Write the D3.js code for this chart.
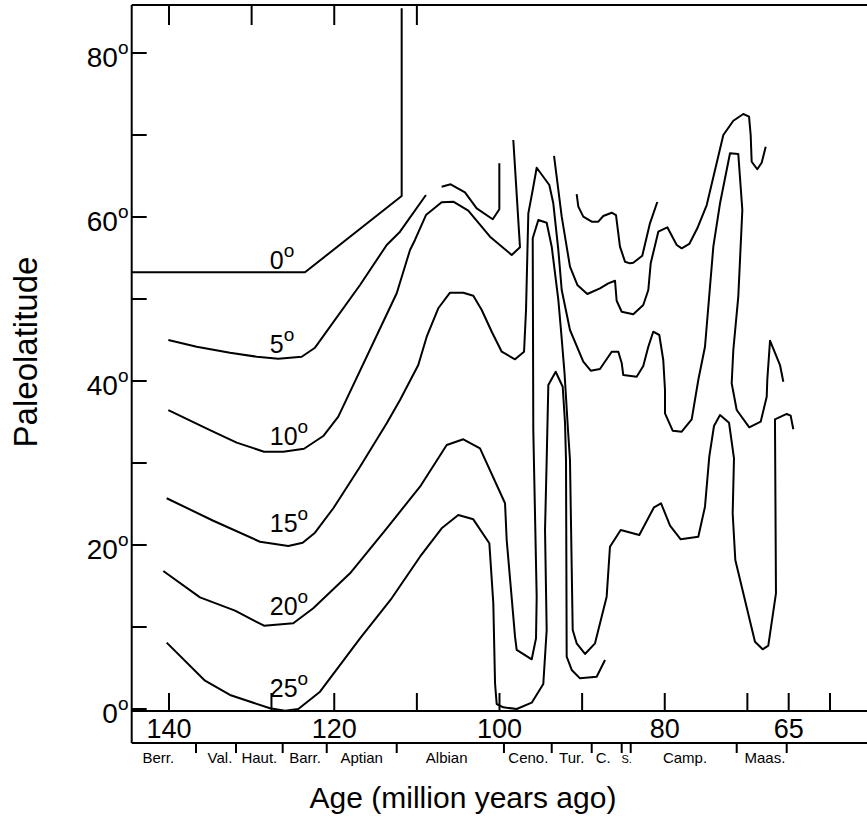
<!DOCTYPE html>
<html>
<head>
<meta charset="utf-8">
<script src="https://cdn.jsdelivr.net/npm/d3@7"></script>
<style>
  html, body { margin: 0; padding: 0; background: #fff; }
  svg { display: block; }
  text { font-family: "Liberation Sans", Arial, Helvetica, sans-serif; fill: #000; }
</style>
</head>
<body>
<svg id="chart" width="867" height="819"></svg>
<script>
// ---------------- DATA (age in Ma, paleolatitude in degrees) ----------------
const contourNames = ["0", "5", "10", "15", "20", "25"];
const contourLabelLats = [53.66, 43.41, 32.2, 21.62, 11.46, 1.5];
const contourLabelAge = 127.8;

const line0 = [[144.48,53.26],[123.54,53.26],[111.84,62.56],[111.84,85.45]];

const line5a = [[140.08,45.0],[136.65,44.18],[132.62,43.45],[129.39,42.96],[126.77,42.72],[123.94,42.96],[122.33,44.06],[116.88,51.71],[113.65,56.59],[112.04,58.21],[108.9,62.68]];
const line5b = [[107.0,63.70],[105.91,63.99],[104.18,63.01],[102.76,61.06],[100.82,59.72],[100.02,60.94],[100.02,66.55]];
const line5c = [[90.66,62.80],[90.46,61.26],[89.86,60.04],[88.84,59.43],[88.04,59.43],[87.44,60.12],[86.42,60.52],[85.90,60.24],[85.42,56.38],[84.81,54.55],[84.21,54.35],[83.81,54.43],[82.72,55.28],[81.79,59.23],[80.90,61.83]];

const line10a = [[140.08,36.46],[135.04,34.02],[131.81,32.48],[128.5,31.38],[126.17,31.38],[123.66,31.74],[121.33,33.29],[119.51,35.65],[112.44,50.70],[110.83,55.98],[110.23,57.20],[108.9,60.24],[107.0,61.79],[105.59,61.87],[103.78,60.79],[101.15,57.6],[98.52,55.37],[97.52,56.30],[98.33,69.39]];
const line10b = [[93.40,67.44],[92.47,60.04],[91.47,53.94],[90.58,51.71],[89.37,50.61],[87.84,51.30],[86.83,51.91],[86.02,52.23],[85.82,49.79],[85.21,48.45],[83.81,48.13],[82.60,49.27],[81.99,51.10],[81.70,54.35],[80.78,58.21],[79.69,58.74],[78.55,56.59],[77.95,56.18],[77.03,56.71],[76.06,58.62],[74.92,61.46],[72.91,70.0],[71.70,71.74],[70.49,72.56],[69.80,72.23],[69.60,70.0],[69.48,66.74],[68.80,65.82],[68.27,66.62],[67.78,68.57]];

const line15 = [[140.28,25.70],[134.64,22.96],[128.99,20.40],[125.56,19.88],[123.82,20.28],[122.33,21.50],[120.11,24.48],[116.88,29.55],[113.65,34.84],[112.04,37.68],[109.83,41.95],[108.81,45.40],[107.41,48.87],[105.99,50.77],[104.38,50.77],[103.17,50.40],[102.15,48.66],[100.94,46.01],[99.73,43.57],[98.12,42.65],[97.03,43.57],[96.79,48.66],[96.51,60.45],[95.98,63.29],[95.50,66.01],[93.97,63.90],[93.49,61.67],[92.88,55.98],[92.47,51.10],[91.47,46.22],[89.86,42.35],[88.96,41.26],[87.84,41.46],[86.42,43.57],[85.62,43.57],[85.21,42.20],[85.02,40.73],[83.40,40.52],[82.60,41.83],[81.99,44.18],[81.39,46.01],[80.66,45.61],[80.18,42.56],[79.97,38.90],[79.97,36.06],[79.04,33.94],[77.95,33.82],[76.74,35.33],[75.94,40.12],[75.13,44.18],[74.12,56.38],[73.31,61.67],[72.10,67.77],[71.10,67.68],[70.61,60.85],[71.10,50.28],[71.70,43.78],[71.90,39.72],[71.29,36.46],[69.77,34.35],[68.39,35.04],[67.66,38.09],[67.59,40.12],[67.26,44.91],[66.05,41.95],[65.65,39.91]];

const line20 = [[140.69,16.83],[136.25,13.62],[132.01,11.99],[128.50,10.16],[124.96,10.45],[122.54,12.28],[118.09,16.55],[113.65,22.04],[109.62,27.11],[106.39,32.20],[104.38,32.89],[102.36,31.79],[99.33,25.09],[99.13,20.61],[98.12,8.82],[97.92,7.20],[96.10,6.06],[95.58,8.62],[95.50,13.70],[95.91,34.02],[95.98,57.40],[95.30,59.63],[94.29,59.30],[93.68,56.38],[92.88,49.88],[92.56,46.22],[92.13,40.98],[91.71,34.02],[91.47,30.37],[91.14,9.63],[90.66,8.01],[89.65,6.71],[88.44,8.01],[87.03,13.70],[86.63,19.79],[85.33,21.83],[83.08,21.22],[81.30,24.60],[80.45,25.09],[79.36,22.35],[78.07,20.70],[75.94,21.01],[75.13,24.67],[74.61,30.77],[74.04,34.51],[73.31,35.85],[72.22,34.91],[71.62,30.57],[71.78,23.87],[71.46,18.17],[69.08,8.21],[68.15,7.28],[67.47,7.72],[66.54,14.11],[66.66,35.33],[65.24,35.98],[64.76,35.77],[64.44,34.11]];

const line25 = [[140.28,8.09],[135.64,3.45],[132.62,1.71],[127.78,0.09],[125.96,-0.2],[124.35,0.0],[121.72,2.11],[116.88,8.62],[113.05,13.50],[109.62,18.57],[107.00,22.04],[104.99,23.66],[103.17,23.13],[101.23,20.21],[100.75,12.89],[100.54,3.13],[100.34,0.61],[99.54,0.21],[97.92,0.0],[96.10,0.77],[94.70,3.05],[94.29,9.63],[94.49,21.83],[94.29,30.37],[94.09,39.51],[93.20,41.13],[92.35,39.30],[92.07,34.88],[91.95,30.37],[91.87,6.38],[91.26,4.76],[90.26,3.74],[88.24,3.94],[87.23,5.98]];

const latTicks = [0, 10, 20, 30, 40, 50, 60, 70, 80];
const latLabels = [0, 20, 40, 60, 80];
const topTickAges = [140, 130, 120, 110];
const bottomTickAges = [140, 127.6, 120, 110, 100, 90, 80, 70, 65, 60];
const bottomLabelAges = [140, 120, 100, 80, 65];

const stageBoundaries = [136.73, 131.89, 126.24, 120.91, 112.44, 99.46, 93.68, 88.84, 85.21, 84.12, 71.29, 65.24];
const stageNames = ["Berr.", "Val.", "Haut.", "Barr.", "Aptian", "Albian", "Ceno.", "Tur.", "C.", "S.", "Camp.", "Maas."];
const stageLabelAges = [141.29, 133.83, 129.07, 123.54, 116.68, 106.39, 96.51, 91.26, 87.44, 84.61, 77.55, 67.87];

const xTitle = "Age (million years ago)";
const yTitle = "Paleolatitude";

// ---------------- DRAWING ----------------
(function draw() {
const W = 867, H = 819;
const svg = d3.select("#chart");
svg.append("rect").attr("width", W).attr("height", H).attr("fill", "#fff");

const x = d3.scaleLinear().domain([140, 60]).range([169, 830]);
const y = d3.scaleLinear().domain([0, 80]).range([709, 53]);

const frameLeft = 131.7, frameTop = 5, axisY = 711, boxBottom = 743, frameRight = 880;
const stroke = "#000", sw = 2;

const g = svg.append("g");
g.append("line").attr("x1", frameLeft).attr("x2", frameRight).attr("y1", frameTop).attr("y2", frameTop).attr("stroke", stroke).attr("stroke-width", sw);
g.append("line").attr("x1", frameLeft).attr("x2", frameLeft).attr("y1", frameTop).attr("y2", boxBottom).attr("stroke", stroke).attr("stroke-width", sw);
g.append("line").attr("x1", frameLeft).attr("x2", frameRight).attr("y1", axisY).attr("y2", axisY).attr("stroke", stroke).attr("stroke-width", sw);
g.append("line").attr("x1", frameLeft).attr("x2", frameRight).attr("y1", boxBottom).attr("y2", boxBottom).attr("stroke", stroke).attr("stroke-width", sw);

g.selectAll(".lt").data(latTicks).enter().append("line")
  .attr("x1", frameLeft).attr("x2", frameLeft + 15)
  .attr("y1", d => y(d)).attr("y2", d => y(d))
  .attr("stroke", stroke).attr("stroke-width", sw);

const ll = g.selectAll(".ll").data(latLabels).enter().append("text")
  .attr("x", 128.5).attr("y", d => y(d) + 14)
  .attr("text-anchor", "end").style("font-size", "28px");
ll.append("tspan").text(d => d);
ll.append("tspan").text("o").style("font-size", "19px").attr("dy", -13.4);

g.selectAll(".tt").data(topTickAges).enter().append("line")
  .attr("x1", d => x(d)).attr("x2", d => x(d))
  .attr("y1", frameTop).attr("y2", frameTop + 20)
  .attr("stroke", stroke).attr("stroke-width", sw);

g.selectAll(".bt").data(bottomTickAges).enter().append("line")
  .attr("x1", d => x(d)).attr("x2", d => x(d))
  .attr("y1", axisY).attr("y2", axisY - 18)
  .attr("stroke", stroke).attr("stroke-width", sw);

g.selectAll(".bl").data(bottomLabelAges).enter().append("text")
  .attr("x", d => x(d)).attr("y", 738)
  .attr("text-anchor", "middle").style("font-size", "27px")
  .text(d => d);

g.selectAll(".sb").data(stageBoundaries).enter().append("line")
  .attr("x1", d => x(d)).attr("x2", d => x(d))
  .attr("y1", boxBottom).attr("y2", boxBottom + 10)
  .attr("stroke", stroke).attr("stroke-width", sw);

g.selectAll(".sl").data(stageNames).enter().append("text")
  .attr("x", (d, i) => x(stageLabelAges[i])).attr("y", 762.5)
  .attr("text-anchor", "middle")
  .style("font-family", "'Liberation Sans Narrow', 'Arial Narrow', 'Liberation Sans', Arial, sans-serif")
  .style("font-size", d => d === "S." ? "11px" : "15px")
  .text(d => d);

const lineGen = d3.line().x(d => x(d[0])).y(d => y(d[1]));
const segments = [line0, line5a, line5b, line5c, line10a, line10b, line15, line20, line25];
g.selectAll(".contour").data(segments).enter().append("path")
  .attr("d", lineGen)
  .attr("fill", "none").attr("stroke", stroke).attr("stroke-width", sw)
  .attr("stroke-linejoin", "round");

const cl = g.selectAll(".cl").data(contourNames).enter().append("text")
  .attr("x", x(contourLabelAge)).attr("y", (d, i) => y(contourLabelLats[i]))
  .attr("text-anchor", "start").style("font-size", "25px");
cl.append("tspan").text(d => d);
cl.append("tspan").text("o").style("font-size", "19px").attr("dy", -11.6);

svg.append("text").attr("x", 463).attr("y", 808)
  .attr("text-anchor", "middle").style("font-size", "30px").text(xTitle);
svg.append("text").attr("transform", "translate(37,352) rotate(-90)")
  .attr("text-anchor", "middle").style("font-size", "33px").text(yTitle);
})();
</script>
</body>
</html>
